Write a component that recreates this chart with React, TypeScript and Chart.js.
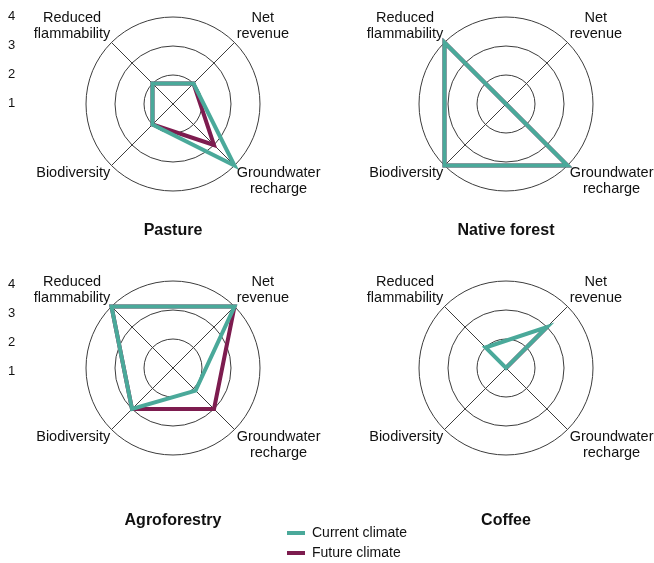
import React, { useEffect, useRef } from 'react';
import { Chart, registerables } from 'chart.js';

Chart.register(...registerables);

// ---------- data ----------
const axisLabels: string[][] = [['Reduced', 'flammability'], ['Net', 'revenue'], ['Groundwater', 'recharge'], ['Biodiversity']];
const seriesNames = ['Current climate', 'Future climate'];
const tickValues = [1, 2, 3, 4];
const titles = ['Pasture', 'Native forest', 'Agroforestry', 'Coffee'];

const pastureCurrent = [2, 2, 4, 2];
const pastureFuture = [2, 2, 3, 2];
const nativeCurrent = [4, 1, 4, 4];
const nativeFuture = [4, 1, 4, 4];
const agroCurrent = [4, 4, 2.1, 3];
const agroFuture = [4, 4, 3, 3];
const coffeeCurrent = [2, 3, 1, 1];
const coffeeFuture = [1, 3, 1, 1];

// ---------- style ----------
const TEAL = '#4aa99a';
const PURPLE = '#7d1c4f';
const GRID = '#3c3c3c';
const TEXT = '#111111';
const FONT = '"Liberation Sans", Arial, Helvetica, sans-serif';
const LINE_H = 16;

const labelPlugin = {
  id: 'centeredPointLabels',
  afterDraw(chart: any) {
    const scale = chart.scales.r;
    if (!scale) return;
    const ctx = chart.ctx;
    ctx.save();
    ctx.font = `14.5px ${FONT}`;
    ctx.fillStyle = TEXT;
    ctx.textAlign = 'center';
    ctx.textBaseline = 'middle';
    (chart.data.labels as any[]).forEach((lab, i) => {
      const lines: string[] = Array.isArray(lab) ? lab : [lab];
      const p = scale.getPointPosition(i, scale.drawingArea + 3);
      const w = Math.max(...lines.map((l) => ctx.measureText(l).width));
      const right = p.x > scale.xCenter;
      const below = p.y > scale.yCenter;
      const cx = right ? p.x + w / 2 : p.x - w / 2 + 1;
      lines.forEach((l, k) => {
        const y = below
          ? p.y - 2.5 + (k + 0.5) * LINE_H
          : p.y + 2 - (lines.length - k - 0.5) * LINE_H;
        ctx.fillText(l, cx, y);
      });
    });
    ctx.restore();
  },
};

const makeTickPlugin = (x: number, dy: number) => ({
  id: 'sideTicks',
  afterDraw(chart: any) {
    const scale = chart.scales.r;
    if (!scale) return;
    const ctx = chart.ctx;
    ctx.save();
    ctx.font = `13px ${FONT}`;
    ctx.fillStyle = TEXT;
    ctx.textAlign = 'center';
    ctx.textBaseline = 'middle';
    tickValues.forEach((v) => {
      const y = scale.yCenter - scale.getDistanceFromCenterForValue(v) + dy;
      ctx.fillText(String(v), x, y);
    });
    ctx.restore();
  },
});

function radarConfig(
  title: string,
  current: number[],
  future: number[],
  padding: any,
  titlePadding: any,
  tickPlugin: any
) {
  return {
    type: 'radar',
    data: {
      labels: axisLabels,
      datasets: [
        { label: seriesNames[0], data: current, borderColor: TEAL, backgroundColor: TEAL, borderWidth: 4, pointRadius: 0, fill: false },
        { label: seriesNames[1], data: future, borderColor: PURPLE, backgroundColor: PURPLE, borderWidth: 4, pointRadius: 0, fill: false },
      ],
    },
    options: {
      responsive: false,
      animation: false,
      devicePixelRatio: 1,
      layout: { padding },
      scales: {
        r: {
          min: 1,
          max: 4,
          startAngle: -45,
          ticks: { display: false, stepSize: 1 },
          grid: { circular: true, color: GRID, lineWidth: 1 },
          angleLines: { color: GRID, lineWidth: 1 },
          pointLabels: { display: false },
        },
      },
      plugins: {
        legend: { display: false },
        tooltip: { enabled: false },
        title: {
          display: true,
          text: title,
          position: 'bottom',
          color: TEXT,
          font: { family: FONT, size: 16, weight: 'bold' },
          padding: titlePadding,
        },
      },
    },
    plugins: tickPlugin ? [labelPlugin, tickPlugin] : [labelPlugin],
  };
}

function legendConfig() {
  return {
    type: 'radar',
    data: {
      labels: [],
      datasets: [
        { label: seriesNames[0], data: [], borderColor: TEAL, backgroundColor: TEAL, borderWidth: 4, pointBorderColor: TEAL, pointBorderWidth: 4 },
        { label: seriesNames[1], data: [], borderColor: PURPLE, backgroundColor: PURPLE, borderWidth: 4, pointBorderColor: PURPLE, pointBorderWidth: 4 },
      ],
    },
    options: {
      responsive: false,
      animation: false,
      devicePixelRatio: 1,
      scales: { r: { display: false } },
      plugins: {
        tooltip: { enabled: false },
        legend: {
          position: 'left',
          align: 'center',
          maxWidth: 180,
          labels: {
            usePointStyle: true,
            pointStyle: 'line',
            pointStyleWidth: 18,
            padding: 6,
            color: TEXT,
            font: { family: FONT, size: 14 },
          },
        },
      },
    },
  };
}

function ChartCanvas({ make, left, top, width, height }: any) {
  const ref = useRef<HTMLCanvasElement | null>(null);
  useEffect(() => {
    const chart = new Chart(ref.current as HTMLCanvasElement, make());
    return () => chart.destroy();
  }, []);
  return (
    <canvas
      ref={ref}
      width={width}
      height={height}
      style={{ position: 'absolute', left, top, width, height }}
    />
  );
}

export default function App() {
  const topPad = (l: number, r: number) => ({ left: l, right: r, top: 0, bottom: 20.3 });
  const botPad = (l: number, r: number) => ({ left: l, right: r, top: 0, bottom: 32.4 });
  return (
    <div
      style={{
        position: 'absolute',
        left: 0,
        top: 0,
        width: 654,
        height: 563,
        overflow: 'hidden',
        background: '#ffffff',
      }}
    >
      <ChartCanvas
        left={0}
        top={0}
        width={327}
        height={260}
        make={() => radarConfig(titles[0], pastureCurrent, pastureFuture, topPad(86, 67), { top: 11, bottom: 0 }, makeTickPlugin(11.5, -1))}
      />
      <ChartCanvas
        left={327}
        top={0}
        width={327}
        height={260}
        make={() => radarConfig(titles[1], nativeCurrent, nativeFuture, topPad(92, 61), { top: 11, bottom: 0 }, null)}
      />
      <ChartCanvas
        left={0}
        top={260}
        width={327}
        height={303}
        make={() => radarConfig(titles[2], agroCurrent, agroFuture, botPad(86, 67), { top: 35.4, bottom: 0 }, makeTickPlugin(11.5, 3))}
      />
      <ChartCanvas
        left={327}
        top={260}
        width={327}
        height={303}
        make={() => radarConfig(titles[3], coffeeCurrent, coffeeFuture, botPad(92, 61), { top: 35.4, bottom: 0 }, null)}
      />
      <ChartCanvas left={281} top={518} width={200} height={50} make={legendConfig} />
    </div>
  );
}
